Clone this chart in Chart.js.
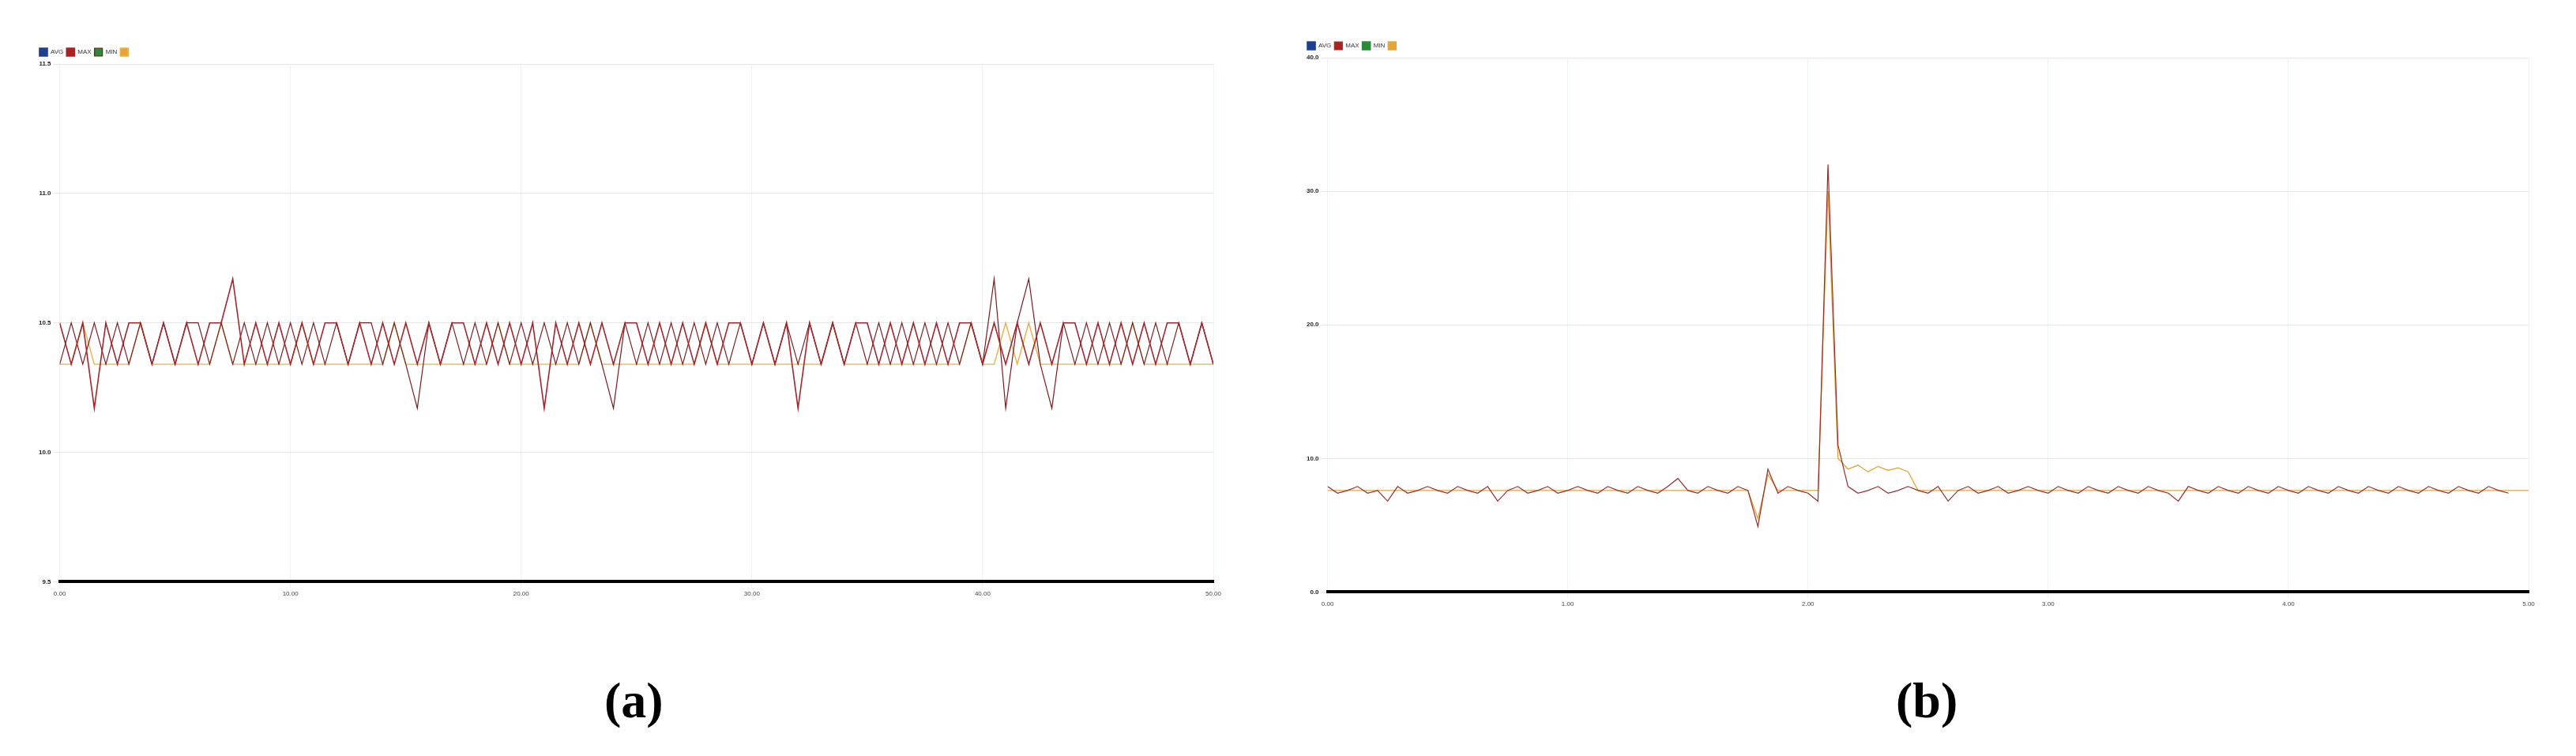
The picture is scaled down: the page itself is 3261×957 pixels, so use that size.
<!DOCTYPE html>
<html><head><meta charset="utf-8">
<script src="https://cdn.jsdelivr.net/npm/chart.js@4"></script>
<style>
body{margin:0;background:#fff;width:3261px;height:957px;position:relative;overflow:hidden}
.c{position:absolute}
.lab{position:absolute;font-family:"Liberation Serif",serif;font-weight:bold;font-size:64px;top:850px}
</style></head><body>
<div class="c" style="left:36px;top:57px;width:1520px;height:703px"><canvas id="a"></canvas></div>
<div class="c" style="left:1641px;top:49px;width:1580px;height:724px"><canvas id="b"></canvas></div>
<div class="lab" style="left:765px">(a)</div>
<div class="lab" style="left:2400px">(b)</div>
<script>
const legendLabels=["AVG","MAX","MIN",""];
const colors=["#1f3f8f","#b0201f","#2a8a3a","#e8a533"];
const aYTicks=[9.5,10.0,10.5,11.0,11.5];
const aXTicks=[0,10,20,30,40,50];
const aRed=[10.5,10.34,10.5,10.17,10.5,10.34,10.5,10.5,10.34,10.5,10.34,10.5,10.34,10.5,10.5,10.67,10.34,10.5,10.34,10.5,10.34,10.5,10.34,10.5,10.5,10.34,10.5,10.34,10.5,10.34,10.5,10.34,10.5,10.34,10.5,10.5,10.34,10.5,10.34,10.5,10.34,10.5,10.17,10.5,10.34,10.5,10.34,10.5,10.34,10.5,10.5,10.34,10.5,10.34,10.5,10.34,10.5,10.34,10.5,10.5,10.34,10.5,10.34,10.5,10.17,10.5,10.34,10.5,10.34,10.5,10.5,10.34,10.5,10.34,10.5,10.34,10.5,10.34,10.5,10.5,10.34,10.5,10.34,10.5,10.34,10.5,10.34,10.5,10.5,10.34,10.5,10.34,10.5,10.34,10.5,10.34,10.5,10.5,10.34,10.5,10.34];
const aRed2=[10.34,10.5,10.34,10.5,10.34,10.5,10.34,10.5,10.34,10.5,10.34,10.5,10.5,10.34,10.5,10.34,10.5,10.34,10.5,10.34,10.5,10.34,10.5,10.34,10.5,10.34,10.5,10.5,10.34,10.5,10.34,10.17,10.5,10.34,10.5,10.34,10.5,10.34,10.5,10.34,10.5,10.34,10.5,10.34,10.5,10.34,10.5,10.34,10.17,10.5,10.34,10.5,10.34,10.5,10.34,10.5,10.34,10.5,10.34,10.5,10.34,10.5,10.34,10.5,10.34,10.5,10.34,10.5,10.34,10.5,10.34,10.5,10.34,10.5,10.34,10.5,10.34,10.5,10.34,10.5,10.34,10.67,10.17,10.5,10.67,10.34,10.17,10.5,10.34,10.5,10.34,10.5,10.34,10.5,10.34,10.5,10.34,10.5,10.34,10.5,10.34];
const aYellow=[10.34,10.34,10.5,10.34,10.34,10.34,10.34,10.5,10.34,10.34,10.34,10.34,10.34,10.34,10.5,10.34,10.34,10.34,10.34,10.34,10.34,10.5,10.34,10.34,10.34,10.34,10.34,10.34,10.34,10.5,10.34,10.34,10.34,10.34,10.34,10.34,10.34,10.34,10.5,10.34,10.34,10.34,10.34,10.34,10.34,10.34,10.5,10.34,10.34,10.34,10.34,10.34,10.34,10.34,10.34,10.34,10.5,10.34,10.34,10.34,10.34,10.34,10.34,10.34,10.34,10.34,10.34,10.5,10.34,10.34,10.34,10.34,10.34,10.34,10.34,10.34,10.34,10.34,10.34,10.5,10.34,10.34,10.5,10.34,10.5,10.34,10.34,10.34,10.34,10.34,10.34,10.34,10.34,10.5,10.34,10.34,10.34,10.34,10.34,10.34,10.34];
const bYTicks=[0,10,20,30,40];
const bXTicks=[0,1,2,3,4,5];
const bRed=[7.9,7.4,7.6,7.9,7.4,7.6,6.8,7.9,7.4,7.6,7.9,7.6,7.4,7.9,7.6,7.4,7.9,6.8,7.6,7.9,7.4,7.6,7.9,7.4,7.6,7.9,7.6,7.4,7.9,7.6,7.4,7.9,7.6,7.4,7.9,8.5,7.6,7.4,7.9,7.6,7.4,7.9,7.6,4.9,9.2,7.4,7.9,7.6,7.4,6.8,32,11,7.9,7.4,7.6,7.9,7.4,7.6,7.9,7.6,7.4,7.9,6.8,7.6,7.9,7.4,7.6,7.9,7.4,7.6,7.9,7.6,7.4,7.9,7.6,7.4,7.9,7.6,7.4,7.9,7.6,7.4,7.9,7.6,7.4,6.8,7.9,7.6,7.4,7.9,7.6,7.4,7.9,7.6,7.4,7.9,7.6,7.4,7.9,7.6,7.4,7.9,7.6,7.4,7.9,7.6,7.4,7.9,7.6,7.4,7.9,7.6,7.4,7.9,7.6,7.4,7.9,7.6,7.4];
const bYellow=[7.6,7.6,7.6,7.6,7.6,7.6,7.6,7.6,7.6,7.6,7.6,7.6,7.6,7.6,7.6,7.6,7.6,7.6,7.6,7.6,7.6,7.6,7.6,7.6,7.6,7.6,7.6,7.6,7.6,7.6,7.6,7.6,7.6,7.6,7.6,7.6,7.6,7.6,7.6,7.6,7.6,7.6,7.6,5.5,8.8,7.6,7.6,7.6,7.6,7.6,30,10,9.2,9.5,9.0,9.4,9.1,9.3,9.0,7.6,7.6,7.6,7.6,7.6,7.6,7.6,7.6,7.6,7.6,7.6,7.6,7.6,7.6,7.6,7.6,7.6,7.6,7.6,7.6,7.6,7.6,7.6,7.6,7.6,7.6,7.6,7.6,7.6,7.6,7.6,7.6,7.6,7.6,7.6,7.6,7.6,7.6,7.6,7.6,7.6,7.6,7.6,7.6,7.6,7.6,7.6,7.6,7.6,7.6,7.6,7.6,7.6,7.6,7.6,7.6,7.6,7.6,7.6,7.6,7.6,7.6];
function pts(arr,step){return arr.map((v,i)=>({x:i*step,y:v}));}
function mk(id,sets,xmax,ymin,ymax,xt,yt,dec){
  new Chart(document.getElementById(id),{type:'line',
   data:{datasets:sets.map((s,i)=>({label:legendLabels[i],data:s.d,borderColor:s.c||colors[i],backgroundColor:colors[i],borderWidth:s.w||1.6,pointRadius:0,tension:0}))},
   options:{responsive:true,maintainAspectRatio:false,animation:false,
    layout:{padding:{left:10,right:20,top:0,bottom:0}},
    plugins:{legend:{align:'start',labels:{boxWidth:10,boxHeight:10,padding:4,font:{size:8},color:'#333'}},tooltip:{enabled:false}},
    scales:{
     x:{type:'linear',min:0,max:xmax,afterBuildTicks:a=>{a.ticks=xt.map(v=>({value:v}))},
        ticks:{font:{size:8},color:'#444',callback:v=>v.toFixed(dec)},grid:{color:'#eef3f3'},border:{color:'#000',width:4}},
     y:{min:ymin,max:ymax,afterBuildTicks:a=>{a.ticks=yt.map(v=>({value:v}))},
        ticks:{font:{size:8,weight:'bold'},color:'#222',callback:v=>v.toFixed(1)},grid:{color:'#e6e6e6'},border:{display:false}}
   }}});
}
mk('a',[{d:[]},{d:pts(aRed,0.5),c:'#a3242a'},{d:pts(aRed2,0.5),c:'#7a1c1c',w:1.2},{d:pts(aYellow,0.5),c:'#e8b04a',w:1.4}],50,9.5,11.5,aXTicks,aYTicks,2);
mk('b',[{d:[]},{d:pts(bRed,5/120),c:'#9c2a2a',w:1.2},{d:[]},{d:pts(bYellow,5/120),c:'#e0a840',w:1.4}],5,0,40,bXTicks,bYTicks,2);
</script></body></html>
